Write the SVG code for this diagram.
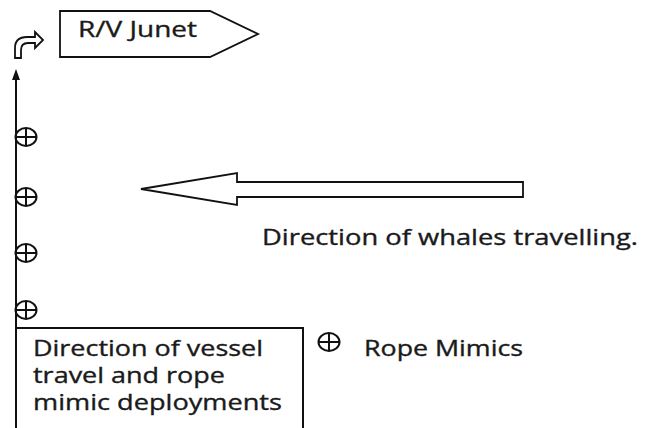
<svg xmlns="http://www.w3.org/2000/svg" width="650" height="428" viewBox="0 0 650 428">
<style>
.t{font-family:"Open Sans","Liberation Sans",sans-serif;font-size:21px;fill:#1a1a1a;stroke:#1a1a1a;stroke-width:0.35}
.o{fill:#fff;stroke:#111;stroke-width:1.8}
.m{fill:none;stroke:#111;stroke-width:2}
</style>
<defs>
<g id="rm"><ellipse cx="0" cy="0" rx="10.5" ry="9" class="m"/><line x1="-10.5" y1="0" x2="10.5" y2="0" class="m"/><line x1="0" y1="-9" x2="0" y2="9" class="m"/></g>
</defs>
<rect width="650" height="428" fill="#fff"/>
<g id="vessel">
<polygon class="o" points="60,11 210,11 258,34 210,57 60,57"/>
<text class="t" x="78" y="37" textLength="119" lengthAdjust="spacingAndGlyphs">R/V Junet</text>
</g>
<g id="turn-icon">
<path class="o" d="M15,58 L15,48 Q15,37 27,37 L35,37 L35,32 L43,40 L35,48 L35,43 L28,43 Q21,43 21,50 L21,58 Z"/>
</g>
<g id="connectors">
<line x1="16" y1="78" x2="16" y2="428" stroke="#111" stroke-width="2"/>
<polygon points="16,69 12,80 20,80" fill="#111"/>
</g>
<g id="rope-mimics">
<use href="#rm" x="26" y="137"/>
<use href="#rm" x="26" y="197"/>
<use href="#rm" x="26" y="253"/>
<use href="#rm" x="26" y="310"/>
</g>
<g id="whale-arrow">
<polygon class="o" points="141,189 237,173 237,182 523,182 523,197 237,197 237,205"/>
<text class="t" x="262" y="245" textLength="376" lengthAdjust="spacingAndGlyphs">Direction of whales travelling.</text>
</g>
<g id="vessel-box">
<path class="m" d="M16,328 L303,328 L303,430" stroke-width="1.5"/>
<text class="t" x="33" y="356" textLength="230" lengthAdjust="spacingAndGlyphs">Direction of vessel</text>
<text class="t" x="33" y="383" textLength="192" lengthAdjust="spacingAndGlyphs">travel and rope</text>
<text class="t" x="33" y="410" textLength="249" lengthAdjust="spacingAndGlyphs">mimic deployments</text>
</g>
<g id="legend">
<use href="#rm" x="329" y="342"/>
<text class="t" x="364" y="356" textLength="159" lengthAdjust="spacingAndGlyphs">Rope Mimics</text>
</g>
</svg>
